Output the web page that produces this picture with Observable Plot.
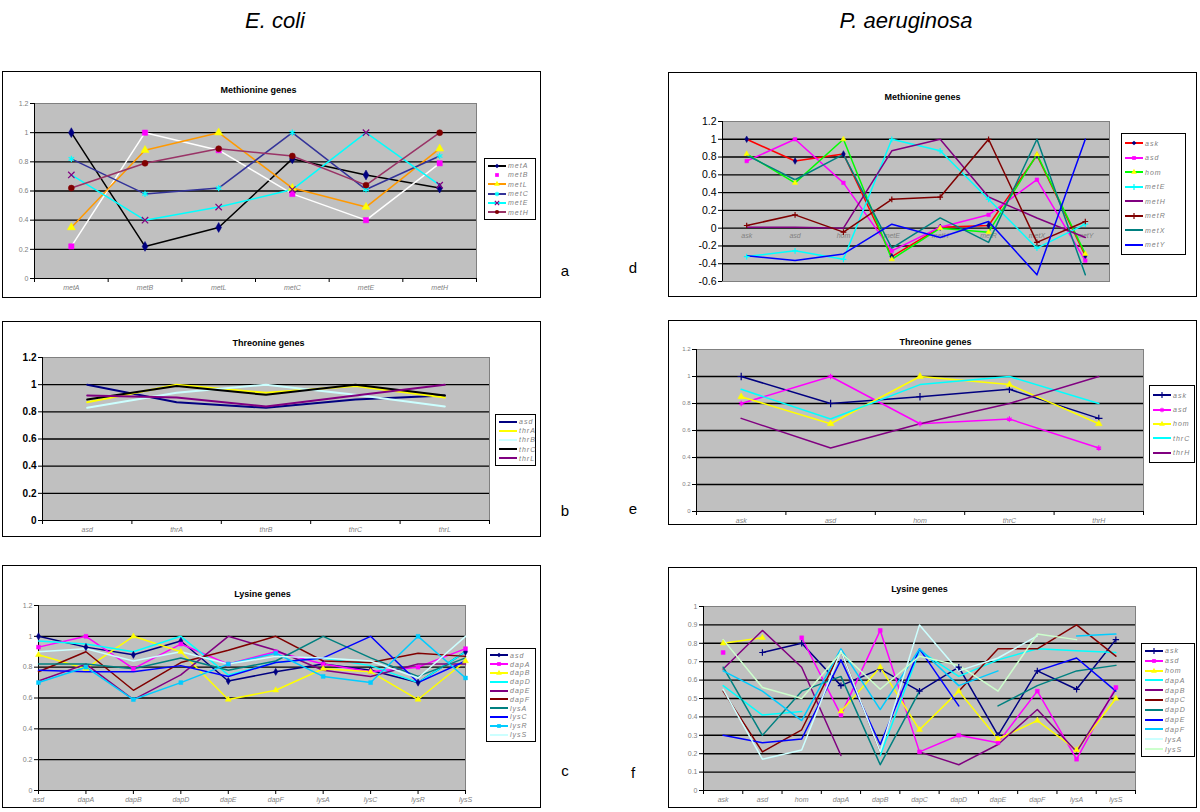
<!DOCTYPE html>
<html><head><meta charset="utf-8">
<script src="https://cdn.jsdelivr.net/npm/d3@7"></script>
<script src="https://cdn.jsdelivr.net/npm/@observablehq/plot@0.6"></script>
<style>
body{margin:0;background:#fff;}
#page{position:relative;width:1200px;height:812px;overflow:hidden;background:#fff;font-family:"Liberation Sans",Arial,sans-serif;}
.box{position:absolute;border:1px solid #000;box-sizing:border-box;background:#fff;}
.legend{position:absolute;border:1.5px solid #000;background:#fff;box-sizing:border-box;}
.lrow{position:absolute;left:3px;display:flex;align-items:center;font-style:italic;color:#808080;font-size:7px;letter-spacing:1px;white-space:nowrap;}
.head{position:absolute;font-style:italic;font-size:22px;line-height:26px;color:#000;transform:translateX(-50%);white-space:nowrap;}
.plab{position:absolute;font-size:15px;color:#000;transform:translate(-50%,-50%);}
</style></head><body><div id="page"></div>
<script>
// ---------- E. coli: Methionine genes (a) ----------
const aGenes = ["metA","metB","metL","metC","metE","metH"];
const aSeries = ["metA","metB","metL","metC","metE","metH"];
const aValues = [
  [1.00,0.22,0.35,0.82,0.71,0.62],
  [0.22,1.00,0.88,0.58,0.40,0.79],
  [0.35,0.88,1.00,0.62,0.49,0.89],
  [0.82,0.58,0.62,1.00,0.61,0.84],
  [0.71,0.40,0.49,0.61,1.00,0.64],
  [0.62,0.79,0.89,0.84,0.64,1.00]
];
const aTicks = [0,0.2,0.4,0.6,0.8,1,1.2];

// ---------- E. coli: Threonine genes (b) ----------
const bGenes = ["asd","thrA","thrB","thrC","thrL"];
const bSeries = ["asd","thrA","thrB","thrC","thrL"];
const bValues = [
  [1.00,0.87,0.83,0.89,0.92],
  [0.87,1.00,0.94,0.99,0.905],
  [0.83,0.94,1.00,0.925,0.84],
  [0.89,0.99,0.925,1.00,0.92],
  [0.92,0.905,0.84,0.92,1.00]
];
const bTicks = [0,0.2,0.4,0.6,0.8,1,1.2];

// ---------- E. coli: Lysine genes (c) ----------
const cGenes = ["asd","dapA","dapB","dapD","dapE","dapF","lysA","lysC","lysR","lysS"];
const cSeries = ["asd","dapA","dapB","dapD","dapE","dapF","lysA","lysC","lysR","lysS"];
const cValues = [
  [1.00,0.93,0.88,0.97,0.71,0.77,0.82,0.78,0.70,0.90],
  [0.93,1.00,0.79,0.95,0.82,0.90,0.82,0.77,0.80,0.92],
  [0.88,0.79,1.00,0.90,0.59,0.65,0.79,0.77,0.59,0.84],
  [0.97,0.95,0.90,1.00,0.75,0.83,0.86,0.81,0.70,0.90],
  [0.71,0.82,0.59,0.75,1.00,0.91,0.78,0.74,0.82,0.82],
  [0.77,0.90,0.65,0.83,0.91,1.00,0.84,0.83,0.89,0.87],
  [0.82,0.82,0.79,0.86,0.78,0.84,1.00,0.86,0.74,0.86],
  [0.78,0.77,0.77,0.81,0.74,0.83,0.86,1.00,0.70,0.84],
  [0.70,0.80,0.59,0.70,0.82,0.89,0.74,0.70,1.00,0.73],
  [0.90,0.92,0.84,0.90,0.82,0.87,0.86,0.84,0.73,1.00]
];
const cTicks = [0,0.2,0.4,0.6,0.8,1,1.2];

// ---------- P. aeruginosa: Methionine genes (d) ----------
const dGenes = ["ask","asd","hom","metE","metH","metR","metX","metY"];
const dSeries = ["ask","asd","hom","metE","metH","metR","metX","metY"];
const dValues = [
  [1.00,0.755,0.835,-0.32,0.01,0.03,0.82,-0.31],
  [0.755,1.00,0.51,-0.255,0.01,0.15,0.545,-0.365],
  [0.835,0.51,1.00,-0.35,0.00,-0.045,0.83,-0.29],
  [-0.32,-0.255,-0.35,1.00,0.87,0.325,-0.225,0.045],
  [0.01,0.01,0.00,0.87,1.00,0.35,0.115,-0.105],
  [0.03,0.15,-0.045,0.325,0.35,1.00,-0.16,0.075],
  [0.82,0.545,0.83,-0.225,0.115,-0.16,1.00,-0.525],
  [-0.31,-0.365,-0.29,0.045,-0.105,0.075,-0.525,1.00]
];
const dTicks = [-0.6,-0.4,-0.2,0,0.2,0.4,0.6,0.8,1,1.2];

// ---------- P. aeruginosa: Threonine genes (e) ----------
const eGenes = ["ask","asd","hom","thrC","thrH"];
const eSeries = ["ask","asd","hom","thrC","thrH"];
const eValues = [
  [1.00,0.80,0.85,0.905,0.69],
  [0.80,1.00,0.65,0.685,0.47],
  [0.85,0.65,1.00,0.94,0.65],
  [0.905,0.685,0.94,1.00,0.80],
  [0.69,0.47,0.65,0.80,1.00]
];
const eTicks = [0,0.2,0.4,0.6,0.8,1,1.2];

// ---------- P. aeruginosa: Lysine genes (f) ----------
const fGenes = ["ask","asd","hom","dapA","dapB","dapC","dapD","dapE","dapF","lysA","lysS"];
const fSeries = ["ask","asd","hom","dapA","dapB","dapC","dapD","dapE","dapF","lysA","lysS"];
const fValues = [
  [null,0.75,0.80,0.57,0.66,0.54,0.67,0.30,0.65,0.55,0.82],
  [0.75,null,0.83,0.41,0.87,0.21,0.30,0.26,0.54,0.17,0.56],
  [0.80,0.83,null,0.43,0.67,0.33,0.54,0.28,0.38,0.22,0.50],
  [0.57,0.41,0.43,null,0.19,0.76,0.62,0.71,0.77,0.76,0.75],
  [0.66,0.87,0.67,0.19,null,0.21,0.14,0.25,0.44,0.21,0.55],
  [0.54,0.21,0.33,0.76,0.21,null,0.54,0.77,0.77,0.90,0.73],
  [0.67,0.30,0.54,0.62,0.14,0.54,null,0.46,0.57,0.65,0.68],
  [0.30,0.26,0.28,0.71,0.25,0.77,0.46,null,0.65,0.72,0.54],
  [0.65,0.54,0.38,0.77,0.44,0.77,0.57,0.65,null,0.84,0.85],
  [0.55,0.17,0.22,0.76,0.21,0.90,0.65,0.72,0.84,null,0.82],
  [0.82,0.56,0.50,0.75,0.55,0.73,0.68,0.54,0.85,0.82,null]
];
const fTicks = [0,0.1,0.2,0.3,0.4,0.5,0.6,0.7,0.8,0.9,1];

const headings = ["E. coli","P. aeruginosa"];
const panelLetters = ["a","b","c","d","e","f"];

// ---------- styles ----------
const NAVY="#000080",MAG="#ff00ff",YEL="#ffff00",CYAN="#00ffff",PURP="#800080",MAR="#800000",TEAL="#008080",BLUE="#0000ff",SKY="#00ccff",LCYAN="#ccffff",LGREEN="#ccffcc";
const panels = [
 {genes:aGenes,series:aSeries,values:aValues,ticks:aTicks,title:"Methionine genes",band:true,
  box:[2,71,539,227],plot:[34,103,476,278],titleXY:[258,86],legend:[484,158,52,62],letter:[565,270],
  colors:["#000000","#ffffff","#ff9900","#333399",CYAN,"#993366"],
  symbols:["diamond","square","triangle","asterisk","times","circle"],
  mcolors:[NAVY,MAG,YEL,CYAN,PURP,MAR],mr:3,lw:1.5,
  yFont:{size:7,fill:"#808080",weight:"normal"},xFont:{size:7,fill:"#808080"}},
 {genes:bGenes,series:bSeries,values:bValues,ticks:bTicks,title:"Threonine genes",band:true,
  box:[2,321,539,216],plot:[42,357,489,520],titleXY:[268,339],legend:[495,414,41,52],letter:[565,510],
  colors:[NAVY,YEL,LCYAN,"#000000",PURP],symbols:[null,null,null,null,null],mcolors:[],mr:0,lw:2,
  yFont:{size:10,fill:"#000",weight:"bold"},xFont:{size:7,fill:"#808080"}},
 {genes:cGenes,series:cSeries,values:cValues,ticks:cTicks,title:"Lysine genes",band:false,
  box:[2,565,539,243],plot:[38,605,465,790],titleXY:[262,590],legend:[486,648,50,94],letter:[565,770],
  colors:[NAVY,MAG,YEL,CYAN,PURP,MAR,TEAL,BLUE,SKY,LCYAN],
  symbols:["diamond","square","triangle",null,null,null,null,null,"square",null],
  mcolors:[NAVY,MAG,YEL,null,null,null,null,null,SKY,null],mr:2.2,lw:1.5,
  yFont:{size:7,fill:"#808080",weight:"normal"},xFont:{size:7,fill:"#808080"}},
 {genes:dGenes,series:dSeries,values:dValues,ticks:dTicks,title:"Methionine genes",band:true,zeroAxis:true,
  box:[668,72,529,225],plot:[722,121,1109,281],titleXY:[922,93],legend:[1121,133,65,122],letter:[633,267],
  colors:["#ff0000",MAG,"#00ff00",CYAN,PURP,MAR,TEAL,BLUE],
  symbols:["diamond","square","triangle","plus",null,"plus",null,null],
  mcolors:[NAVY,MAG,YEL,CYAN,null,MAR,null,null],mr:2,lw:1.5,
  yFont:{size:10.5,fill:"#000",weight:"normal"},xFont:{size:7,fill:"#808080"}},
 {genes:eGenes,series:eSeries,values:eValues,ticks:eTicks,title:"Threonine genes",band:true,
  box:[668,320,529,205],plot:[696,349,1143,511],titleXY:[935,338],legend:[1149,385,46,78],letter:[633,508],
  colors:[NAVY,MAG,YEL,CYAN,PURP],symbols:["plus","asterisk","triangle",null,null],
  mcolors:[NAVY,MAG,YEL,null,null],mr:2.5,lw:1.5,
  yFont:{size:6,fill:"#808080",weight:"normal"},xFont:{size:7,fill:"#808080"}},
 {genes:fGenes,series:fSeries,values:fValues,ticks:fTicks,title:"Lysine genes",band:true,
  box:[668,567,529,241],plot:[703,606,1135,790],titleXY:[919,585],legend:[1141,643,54,114],letter:[633,772],
  colors:[NAVY,MAG,YEL,CYAN,PURP,MAR,TEAL,BLUE,SKY,LCYAN,LGREEN],
  symbols:["plus","square","triangle",null,null,null,null,null,null,null,null],
  mcolors:[NAVY,MAG,YEL],mr:2.2,lw:1.5,
  yFont:{size:7,fill:"#808080",weight:"normal"},xFont:{size:7,fill:"#808080"}}
];

const strokeSyms = new Set(["times","plus","asterisk"]);
const d3sym = {diamond:d3.symbolDiamond2,square:d3.symbolSquare,triangle:d3.symbolTriangle,circle:d3.symbolCircle,times:d3.symbolTimes,plus:d3.symbolPlus,asterisk:d3.symbolAsterisk};
const fmt = d => String(Math.round(d*10)/10);
const page = document.getElementById("page");

function add(el){page.appendChild(el);return el;}

panels.forEach((p, pi) => {
  const [bx,by,bw,bh] = p.box;
  const [px0,py0,px1,py1] = p.plot;
  const box = document.createElement("div");
  box.className="box";
  Object.assign(box.style,{left:bx+"px",top:by+"px",width:bw+"px",height:bh+"px"});
  add(box);

  const n = p.genes.length;
  const xv = i => p.band ? i + 0.5 : i;
  const xDomain = p.band ? [0,n] : [0,n-1];
  const yDomain = [p.ticks[0], p.ticks[p.ticks.length-1]];
  const grid = p.ticks.slice(1,-1);
  const rows = p.series.map((s,si) => p.genes.map((g,gi) => ({s,si,gi,v:p.values[si][gi]})));

  const marks = [
    Plot.frame({fill:"#c0c0c0",stroke:"#808080"}),
    Plot.ruleY(grid,{stroke:"#000",strokeWidth:1.4}),
    Plot.ruleX([xDomain[0]],{stroke:"#000",strokeWidth:1}),
    Plot.axisY({ticks:p.ticks,tickSize:4,tickPadding:2,tickFormat:fmt,label:null,fontSize:p.yFont.size,fill:p.yFont.fill,fontWeight:p.yFont.weight})
  ];
  if (p.zeroAxis) {
    marks.push(Plot.text(p.genes,{x:(d,i)=>xv(i),y:0,dy:8,text:d=>d,fontStyle:"italic",fontSize:p.xFont.size,fill:p.xFont.fill}));
  } else {
    marks.push(Plot.ruleY([yDomain[0]],{stroke:"#000",strokeWidth:1.2}));
    marks.push(Plot.axisX({ticks:p.band?d3.range(n+1):d3.range(n),tickSize:4,tickFormat:()=>"",label:null,stroke:"#000"}));
    marks.push(Plot.axisX({ticks:d3.range(n).map(xv),tickSize:0,tickPadding:7,label:null,
      tickFormat:v=>p.genes[Math.round(p.band?v-0.5:v)],fontStyle:"italic",fontSize:p.xFont.size,fill:p.xFont.fill}));
  }
  rows.forEach((r,si) => {
    marks.push(Plot.line(r,{x:d=>xv(d.gi),y:"v",stroke:p.colors[si],strokeWidth:p.lw}));
  });
  rows.forEach((r,si) => {
    const sym = p.symbols[si];
    if (!sym) return;
    const c = p.mcolors[si];
    const opts = {x:d=>xv(d.gi),y:"v",symbol:sym,r:p.mr};
    if (strokeSyms.has(sym)) { opts.stroke=c; opts.strokeWidth=1.2; opts.fill="none"; }
    else { opts.fill=c; opts.stroke=c; opts.strokeWidth=0.5; }
    marks.push(Plot.dot(r.filter(d=>d.v!=null),opts));
  });
  marks.push(Plot.text([p.title],{text:d=>d,frameAnchor:"top",dx:p.titleXY[0]-(px0+px1)/2,dy:p.titleXY[1]-py0,
    fontSize:9,fontWeight:"bold",fill:"#000"}));

  const opts = {
    width:bw,height:bh,
    marginLeft:px0-bx,marginRight:bx+bw-px1,marginTop:py0-by,marginBottom:by+bh-py1,
    x:{domain:xDomain,label:null},
    y:{domain:yDomain,label:null},
    style:{background:"transparent",fontFamily:"Liberation Sans, Arial, sans-serif",overflow:"visible"},
    marks
  };
  if (p.zeroAxis) opts.x.axis = null;
  const svg = Plot.plot(opts);
  Object.assign(svg.style,{position:"absolute",left:bx+"px",top:by+"px"});
  add(svg);

  // legend
  const [lx,ly,lw,lh] = p.legend;
  const lg = document.createElement("div");
  lg.className="legend";
  Object.assign(lg.style,{left:lx+"px",top:ly+"px",width:lw+"px",height:lh+"px"});
  const step = (lh-6)/p.series.length;
  p.series.forEach((s,si) => {
    const row = document.createElement("div");
    row.className="lrow";
    row.style.top=(2+step*si)+"px";
    row.style.height=step+"px";
    let symPath = "";
    const sym = p.symbols[si];
    if (sym) {
      const path = d3.symbol(d3sym[sym], 14)();
      const c = p.mcolors[si];
      symPath = strokeSyms.has(sym)
        ? `<path transform="translate(9,4)" d="${path}" fill="none" stroke="${c}" stroke-width="1.2"/>`
        : `<path transform="translate(9,4)" d="${path}" fill="${c}"/>`;
    }
    row.innerHTML = `<svg width="18" height="8" style="flex:none"><line x1="0" x2="18" y1="4" y2="4" stroke="${p.colors[si]}" stroke-width="2"/>${symPath}</svg><span style="margin-left:2px">${s}</span>`;
    lg.appendChild(row);
  });
  add(lg);

  const lab = document.createElement("div");
  lab.className="plab";
  lab.textContent = panelLetters[pi];
  Object.assign(lab.style,{left:p.letter[0]+"px",top:p.letter[1]+"px"});
  add(lab);
});

[[headings[0],275],[headings[1],906]].forEach(([t,x]) => {
  const h = document.createElement("div");
  h.className="head";
  h.textContent=t;
  Object.assign(h.style,{left:x+"px",top:"8px"});
  add(h);
});
</script></body></html>
